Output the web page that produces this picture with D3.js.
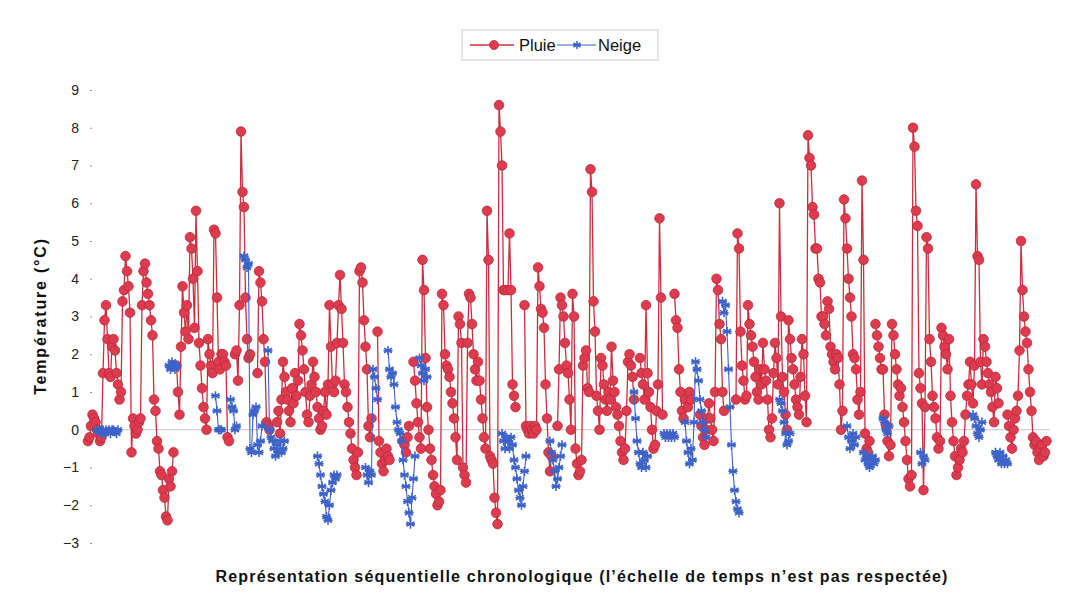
<!DOCTYPE html>
<html><head><meta charset="utf-8">
<script src="https://cdn.jsdelivr.net/npm/d3@7"></script>
<style>body{margin:0;background:#fff}svg{display:block}text{font-family:"Liberation Sans",Arial,sans-serif}</style>
</head><body><svg id="c" width="1069" height="600"></svg>
<script>
const _ = null;
const yTicks = [-3,-2,-1,0,1,2,3,4,5,6,7,8,9];
const seriesNames = ["Pluie","Neige"];
const pluie = [
-0.3,-0.2,0.1,0.4,0.3,0.2,0,-0.1,-0.3,-0.2,
1.5,2.9,3.3,2.4,1.5,1.4,2.2,2.4,2.1,1.5,
1.2,0.8,1.0,3.4,3.7,4.6,4.2,3.8,3.1,-0.6,
0.3,0.1,-0.1,0.0,0.2,0.3,3.3,4.2,4.4,3.9,
3.6,3.3,2.9,2.5,0.8,0.5,-0.3,-0.5,-1.1,-1.2,
-1.6,-1.8,-2.3,-2.4,-1.3,-1.5,-1.1,-0.6,_,1.7,
1.0,0.4,2.2,3.8,3.1,2.6,3.3,2.4,5.1,4.8,
4.0,2.7,5.8,4.2,2.3,1.7,1.1,0.6,0.3,0.0,
2.4,2.0,1.7,1.5,5.3,5.2,3.5,1.8,1.6,2.0,
2.0,1.8,1.7,-0.2,-0.3,_,_,_,2.0,2.1,
1.3,3.3,7.9,6.3,5.9,3.5,2.4,1.9,2.0,_,
_,_,_,1.5,4.2,3.9,3.4,2.4,1.8,0.2,
0.1,0.0,_,_,_,_,0.2,0.5,-0.1,0.8,
1.8,1.4,1.0,0.8,0.5,0.2,1.1,0.7,1.5,0.9,
1.3,2.8,2.5,2.1,1.6,1.0,0.4,0.2,0.9,1.2,
1.8,1.4,1.0,0.6,0.3,0.0,0.1,0.5,1.0,0.4,
1.2,3.3,2.2,1.2,1.0,1.3,2.3,3.3,4.1,3.2,
2.3,1.2,1.0,0.6,0.2,-0.1,-0.5,-0.8,-1.0,-1.2,
-0.6,4.2,4.3,3.9,2.9,2.2,1.6,0.1,-0.2,0.3,
_,_,_,2.6,-0.3,-0.6,-0.9,-1.1,-0.8,-0.5,
-0.7,-0.8,_,_,_,_,_,_,_,_,
-0.3,-0.4,-0.6,-0.2,0.1,_,_,1.8,1.3,0.7,
0.2,-0.2,-0.5,4.5,3.7,1.9,0.6,0.0,-0.5,-0.8,
-1.2,-1.5,-1.7,-2.0,-1.9,-1.6,3.6,3.3,2.0,1.7,
1.6,1.4,1.0,0.7,0.3,-0.2,-0.8,3.0,2.8,2.3,
-1.0,-1.2,-1.4,2.3,3.6,3.5,2.8,2.0,1.6,1.3,
1.8,1.3,0.8,0.3,-0.2,-0.5,5.8,4.5,-0.7,-0.8,
-0.9,-1.8,-2.2,-2.5,8.6,7.9,7.0,3.7,3.7,_,
3.7,5.2,3.7,1.2,0.9,0.6,_,_,_,_,
_,3.3,0.1,0.0,-0.1,0.1,0.0,-0.1,0.1,0.0,
4.3,3.8,3.2,3.1,2.7,1.2,0.3,-0.6,-1.1,-0.7,
_,_,_,0.1,1.6,3.5,3.3,3.0,2.3,1.7,
1.5,0.8,0.0,3.6,3.0,-0.5,-0.9,-1.2,-1.1,-0.8,
1.7,1.9,2.1,1.1,1.0,6.9,6.3,3.4,2.6,0.9,
0.5,0.0,1.9,1.7,1.2,0.8,0.5,1.0,0.8,2.2,
1.3,1.0,0.6,0.4,0.1,-0.3,-0.6,-0.8,-0.5,0.5,
1.8,2.0,1.7,1.4,0.8,_,_,_,1.9,1.5,
1.2,0.8,3.3,1.5,1.0,0.6,0.0,-0.5,-0.4,0.5,
1.2,5.6,3.5,0.4,_,_,_,_,_,_,
_,3.6,2.9,2.7,1.6,1.0,0.5,0.3,0.8,_,
0.6,1.0,0.8,_,_,_,_,_,0.4,0.1,
-0.2,-0.4,0.0,0.3,0.7,0.3,0.0,-0.3,1.0,4.0,
3.7,2.8,2.4,1.0,0.5,_,_,_,_,_,
_,_,0.8,5.2,4.8,2.6,1.7,1.3,0.8,0.9,
3.3,2.8,2.5,2.2,1.8,1.4,1.0,0.8,1.6,1.2,
2.3,1.6,1.3,0.8,0.0,-0.2,0.3,1.5,2.3,1.9,
1.2,6.0,3.0,1.4,1.0,0.4,0.0,2.9,2.4,1.9,
1.6,1.2,0.8,0.6,0.4,1.4,2.4,2.0,0.9,0.2,
7.8,7.2,7.0,5.9,5.7,4.8,4.8,4.0,3.9,3.0,
3.0,2.8,2.5,3.4,3.2,2.2,2.0,1.8,1.6,2.0,
1.9,1.2,0.0,0.5,6.1,5.6,4.8,4.0,3.5,3.0,
2.0,1.9,1.6,0.8,0.4,1.0,6.6,4.5,-0.1,-0.5,
-0.6,-0.3,_,_,_,2.8,2.5,2.2,1.9,1.6,
1.6,0.4,0.1,-0.3,-0.7,-0.4,2.8,2.5,2.0,1.6,
1.2,0.9,1.1,0.6,0.2,-0.3,-0.8,-1.3,-1.5,-1.2,
8.0,7.5,5.8,5.4,1.5,1.1,0.7,-1.6,0.6,5.1,
4.8,2.4,1.8,0.9,0.6,0.3,-0.2,-0.5,-0.3,2.7,
2.5,2.2,2.0,1.6,2.4,0.9,0.2,-0.3,-0.7,-1.2,
-1.0,-0.8,-0.5,-0.6,-0.3,0.4,0.9,1.2,1.8,1.2,
0.7,1.7,6.5,4.6,4.5,1.8,1.2,2.4,2.2,1.8,
1.5,1.2,1.0,0.6,0.2,1.4,1.1,0.7,_,_,
_,_,_,0.4,0.1,-0.2,-0.5,0.0,0.3,0.5,
0.9,2.1,5.0,3.7,3.0,2.6,2.3,1.6,1.0,0.5,
-0.2,-0.4,-0.3,-0.6,-0.8,-0.5,-0.4,-0.7,-0.6,-0.3
];
const neige = [
_,_,_,_,_,_,0,-0.05,0,-0.1,
0,-0.1,0,-0.05,0,-0.1,0,0,-0.05,-0.1,
0,_,_,_,_,_,_,_,_,_,
_,_,_,_,_,_,_,_,_,_,
_,_,_,_,_,_,_,_,_,_,
_,_,_,_,1.7,1.6,1.8,1.7,1.6,1.7,
_,_,_,_,_,_,_,_,_,_,
_,_,_,_,_,_,_,_,_,_,
_,_,_,_,_,0.9,0.5,0.0,0.0,0.0,
_,_,_,_,_,0.8,0.6,0.5,0.0,0.1,
_,_,_,_,4.6,4.5,4.3,4.4,-0.5,-0.6,
0.4,0.5,0.6,-0.4,-0.6,-0.3,0.1,_,_,_,
2.1,0.0,-0.2,-0.3,-0.5,-0.7,-0.4,-0.6,-0.3,-0.6,
-0.5,-0.3,_,_,_,_,_,_,_,_,
_,_,_,_,_,_,_,_,_,_,
_,_,_,-0.7,-0.9,-1.2,-1.5,-1.7,-1.9,-2.3,
-2.4,-2.0,-1.6,-1.4,-1.2,-1.3,-1.2,_,_,_,
_,_,_,_,_,_,_,_,_,_,
_,_,_,_,_,-1.0,-1.2,-1.4,-1.1,-1.2,
1.6,1.4,1.1,0.8,_,_,_,_,_,_,
2.1,1.6,1.4,1.5,1.2,0.6,0.2,0.0,-0.1,-0.3,
-0.8,-1.2,-1.5,-1.9,-2.2,-2.5,-1.8,-1.3,-0.7,_,
_,1.9,1.7,1.5,1.3,1.6,1.4,_,_,_,
_,_,_,_,_,_,_,_,_,_,
_,_,_,_,_,_,_,_,_,_,
_,_,_,_,_,_,_,_,_,_,
_,_,_,_,_,_,_,_,_,_,
_,_,_,_,_,_,-0.1,-0.3,-0.5,-0.2,
-0.3,-0.5,-0.2,-0.4,-0.8,-1.0,-1.3,-1.6,-1.8,-2.0,
-1.5,-1.1,-0.7,_,_,_,_,_,_,_,
_,_,_,_,_,_,_,_,-0.3,-0.6,
-0.8,-1.1,-1.5,-1.3,-1.0,-0.7,-0.4,_,_,_,
_,_,_,_,_,_,_,_,_,_,
_,_,_,_,_,_,_,_,_,_,
_,_,_,_,_,_,_,_,_,_,
_,_,_,_,_,_,_,_,_,_,
_,_,_,_,1.0,0.3,-0.3,-0.6,-0.9,-1.0,
-0.6,-0.8,-1.0,-0.7,_,_,_,_,_,_,
_,_,_,_,-0.1,-0.2,-0.1,-0.2,-0.1,-0.2,
-0.1,-0.2,_,_,_,_,_,_,0.2,-0.3,
-0.6,-0.9,-0.5,-0.8,0.2,1.8,1.6,1.3,0.8,0.5,
0.2,0.0,-0.2,_,_,_,_,_,_,_,
_,_,_,3.4,3.1,3.3,2.6,1.6,0.6,-0.4,
-1.1,-1.6,-1.9,-2.1,-2.2,_,_,_,_,_,
_,_,_,_,_,_,_,_,_,_,
_,_,_,_,_,_,_,_,_,_,
_,0.8,0.7,0.5,0.2,-0.1,-0.4,-0.3,-0.1,_,
_,_,_,_,_,_,_,_,_,_,
_,_,_,_,_,_,_,_,_,_,
_,_,_,_,_,_,_,_,_,_,
_,_,_,_,_,_,0.1,-0.2,-0.5,-0.3,
-0.1,-0.4,-0.2,_,_,_,_,-0.6,-0.8,-0.7,
-0.9,-1.0,-0.8,-0.7,-0.9,-0.8,_,_,_,_,
0.3,0.2,0.0,-0.1,0.1,_,_,_,_,_,
_,_,_,_,_,_,_,_,_,_,
_,_,_,_,_,-0.6,-0.9,-0.7,-0.8,_,
_,_,_,_,_,_,_,_,_,_,
_,_,_,_,_,_,_,_,_,_,
_,_,_,_,_,_,_,_,_,_,
0.4,0.3,0.1,-0.1,-0.2,0.0,0.2,_,_,_,
_,_,_,_,_,-0.6,-0.7,-0.8,-0.6,-0.9,
-0.7,-0.9,-0.8,-0.9,_,_,_,_,_,_,
_,_,_,_,_,_,_,_,_,_,
_,_,_,_,_,_,_,_,_,_
];

const svg = d3.select("#c");
const N = pluie.length;
const x = d3.scaleLinear().domain([0, N - 1]).range([88, 1046.5]);
const y = d3.scaleLinear().domain([-3, 9]).range([543, 90]);

const red = "#de3b4f", redDark = "#b62b3b", blue = "#3d63c9";

// zero line (category axis)
svg.append("line").attr("x1", 86).attr("x2", 1050).attr("y1", y(0)).attr("y2", y(0))
  .attr("stroke", "#c4c4c4").attr("stroke-width", 1);

// Y axis labels
const yAxis = d3.axisLeft(y).tickValues(yTicks).tickSize(2).tickPadding(11).tickFormat(d3.format("d"));
const gy = svg.append("g").attr("transform", "translate(92,0)").call(yAxis);
gy.select(".domain").remove();
gy.selectAll(".tick line").attr("stroke", "#999");
gy.selectAll("text").attr("font-size", 14).attr("fill", "#222").attr("font-family", "Liberation Sans, Arial");

const idx = d3.range(N);
const line = (arr) => d3.line().defined(i => arr[i] != null).x(i => x(i)).y(i => y(arr[i]));

// Pluie
svg.append("path").attr("d", line(pluie)(idx)).attr("fill", "none").attr("stroke", "#c9303f").attr("stroke-width", 1.3);
svg.append("g").selectAll("circle").data(idx.filter(i => pluie[i] != null)).join("circle")
  .attr("cx", i => x(i)).attr("cy", i => y(pluie[i])).attr("r", 4.8)
  .attr("fill", red).attr("stroke", redDark).attr("stroke-width", 0.8);

// Neige
const star = (s) => `M0,${-s}V${s}M${-s*0.87},${-s*0.5}L${s*0.87},${s*0.5}M${-s*0.87},${s*0.5}L${s*0.87},${-s*0.5}M${-s},0H${s}`;
svg.append("path").attr("d", line(neige)(idx)).attr("fill", "none").attr("stroke", blue).attr("stroke-width", 1.1);
svg.append("g").selectAll("path").data(idx.filter(i => neige[i] != null)).join("path")
  .attr("transform", i => `translate(${x(i)},${y(neige[i])})`)
  .attr("d", star(4.6)).attr("stroke", blue).attr("stroke-width", 1.6).attr("fill", "none");

// Legend
const lg = svg.append("g");
lg.append("rect").attr("x", 462).attr("y", 30).attr("width", 196).attr("height", 30)
  .attr("fill", "#fff").attr("stroke", "#cfcfcf");
lg.append("line").attr("x1", 470).attr("x2", 514).attr("y1", 45).attr("y2", 45).attr("stroke", "#c9303f").attr("stroke-width", 1.3);
lg.append("circle").attr("cx", 494).attr("cy", 45).attr("r", 4.5).attr("fill", red).attr("stroke", redDark).attr("stroke-width", 0.8);
lg.append("text").attr("x", 519).attr("y", 51).attr("font-size", 16.5).attr("fill", "#111").text(seriesNames[0]);
lg.append("line").attr("x1", 557).attr("x2", 596).attr("y1", 45).attr("y2", 45).attr("stroke", blue).attr("stroke-width", 1.1);
lg.append("path").attr("transform", "translate(577,45)").attr("d", star(4)).attr("stroke", blue).attr("stroke-width", 1.5).attr("fill", "none");
lg.append("text").attr("x", 598).attr("y", 51).attr("font-size", 16.5).attr("fill", "#111").text(seriesNames[1]);

// Axis titles
svg.append("text").attr("transform", "translate(46,316) rotate(-90)").attr("text-anchor", "middle")
  .attr("font-size", 16).attr("font-weight", "bold").attr("letter-spacing", 1.8).attr("fill", "#111").text("Température (°C)");
svg.append("text").attr("x", 582).attr("y", 582).attr("text-anchor", "middle")
  .attr("font-size", 16).attr("font-weight", "bold").attr("letter-spacing", 1.2).attr("fill", "#111")
  .text("Représentation séquentielle chronologique (l’échelle de temps n’est pas respectée)");
</script></body></html>
